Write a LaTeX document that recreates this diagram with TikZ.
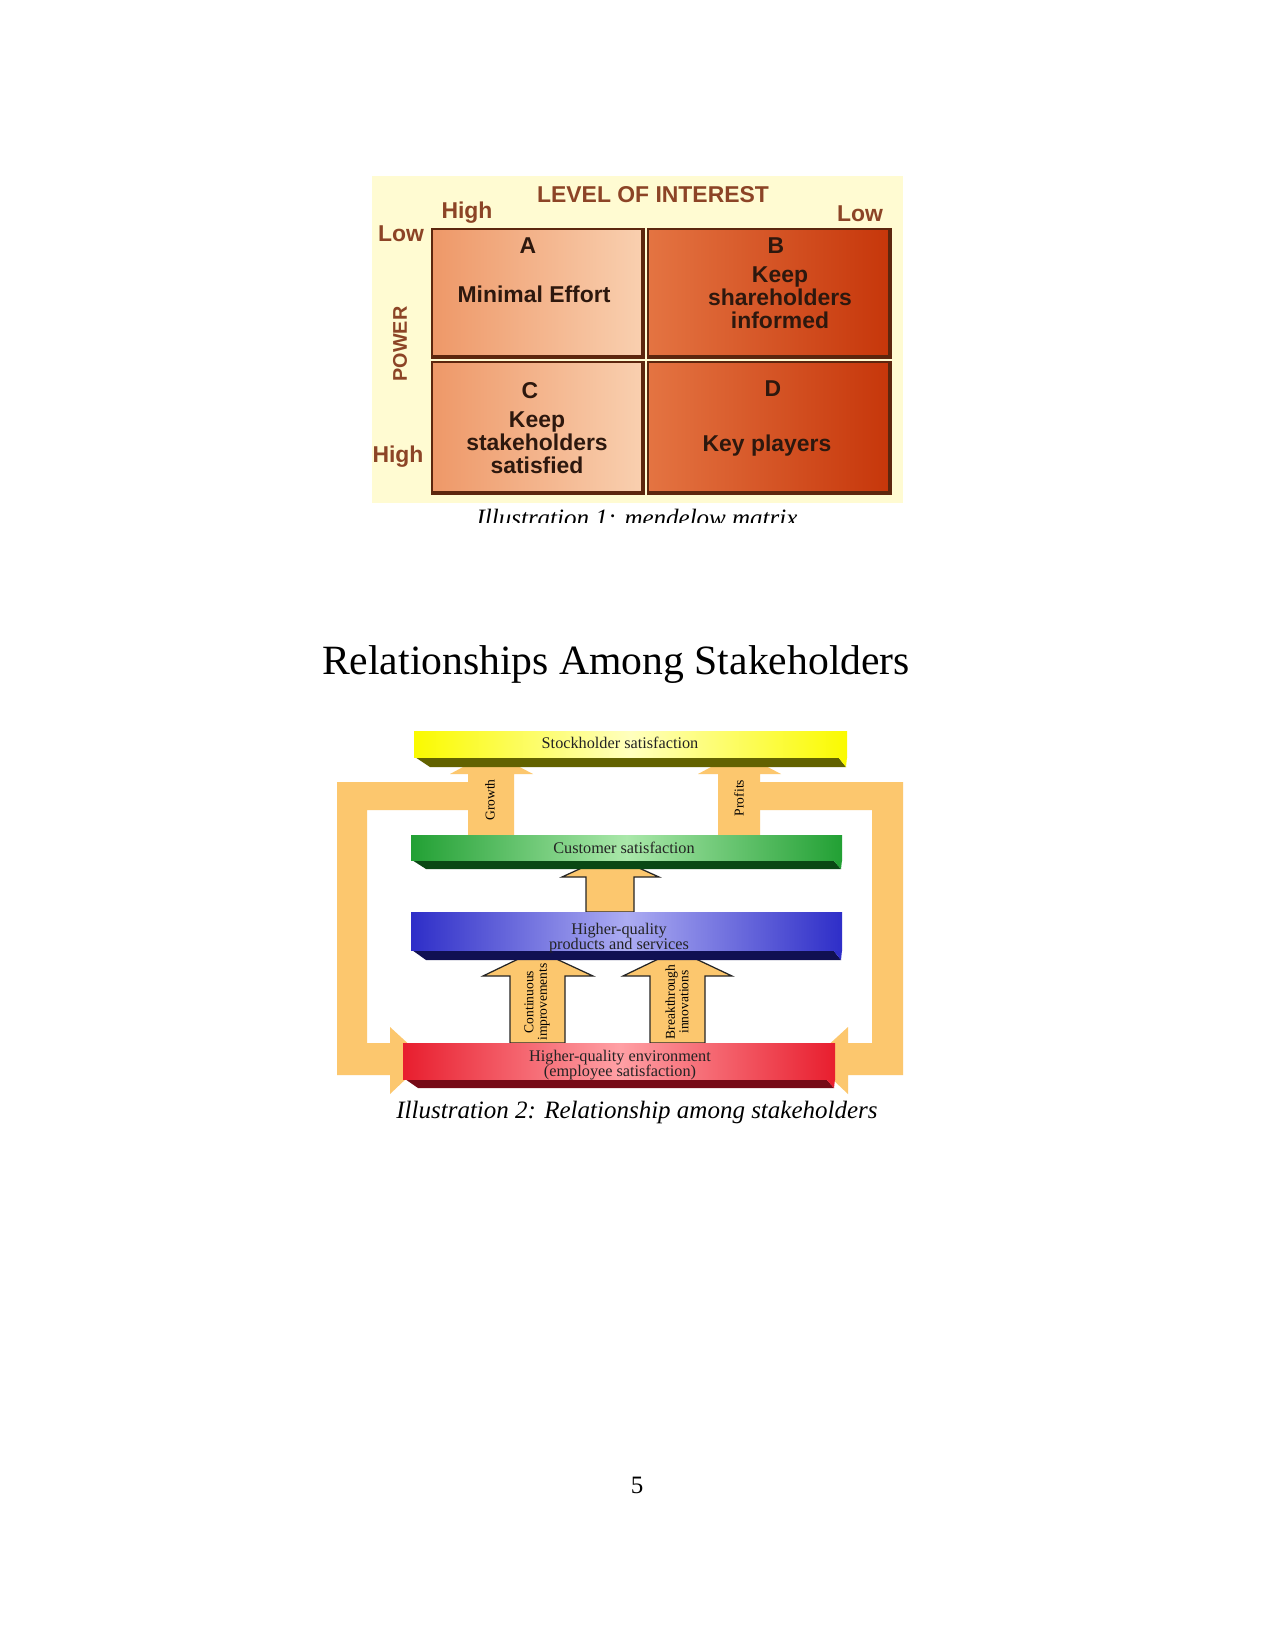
\documentclass[tikz,border=0pt]{standalone}
\usepackage{fontspec}
\setmainfont{Liberation Serif}
\newfontfamily\matrixfont{Liberation Sans}
\newcommand\tightlines{\lineskiplimit=-10pt\relax}

\definecolor{matrixbg}{RGB}{255,251,210}
\definecolor{labelbrown}{RGB}{140,68,38}
\definecolor{celltext}{RGB}{45,24,14}
\definecolor{cellbrown}{RGB}{92,38,14}
\definecolor{peachL}{RGB}{238,152,104}
\definecolor{peachR}{RGB}{249,208,176}
\definecolor{rustL}{RGB}{228,116,66}
\definecolor{rustR}{RGB}{198,54,10}
\definecolor{feedorange}{RGB}{252,199,110}
\definecolor{yface}{RGB}{250,250,0}
\definecolor{ylight}{RGB}{255,255,190}
\definecolor{yband}{RGB}{98,98,0}
\definecolor{gface}{RGB}{34,160,52}
\definecolor{glight}{RGB}{170,232,170}
\definecolor{gband}{RGB}{10,72,20}
\definecolor{bface}{RGB}{46,46,200}
\definecolor{blight}{RGB}{172,172,242}
\definecolor{bband}{RGB}{16,16,82}
\definecolor{rface}{RGB}{232,30,46}
\definecolor{rlight}{RGB}{255,160,165}
\definecolor{rband}{RGB}{118,10,22}
\definecolor{bartext}{RGB}{35,35,35}

\begin{document}
\begin{tikzpicture}[x=0.48pt,y=-0.48pt,
  mlabel/.style={font=\matrixfont\bfseries\fontsize{11}{11}\selectfont,text=labelbrown,inner sep=0pt},
  mtext/.style={font=\matrixfont\bfseries\fontsize{11}{11}\selectfont,text=celltext,align=center,inner sep=0pt},
  cellrim/.style={draw=cellbrown,line width=0.6pt},
  cellshadow/.style={draw=cellbrown,line width=1.6pt},
  barlabel/.style={font=\fontsize{7.8}{7.2}\selectfont\tightlines,text=bartext,align=center,inner sep=0pt},
  arrlabel/.style={font=\fontsize{6.5}{6.5}\selectfont\tightlines,rotate=90,align=center,inner sep=0pt},
  feed/.style={fill=feedorange},
  feedline/.style={fill=feedorange,draw=black!85,line width=0.6pt},
  caption/.style={font=\itshape\fontsize{12}{14}\selectfont,anchor=base,inner sep=0pt}]

\useasboundingbox (0,0) rectangle (1275,1651);
\fill[white] (0,0) rectangle (1275,1651);

% mendelow matrix
\fill[matrixbg] (372,176) rectangle (903,503);
\shade[left color=peachL,right color=peachR] (432,229) rectangle (644,358);
\shade[left color=rustL,right color=rustR] (648,229) rectangle (891,358);
\shade[left color=peachL,right color=peachR] (432,362) rectangle (644,494);
\shade[left color=rustL,right color=rustR] (648,362) rectangle (891,494);
\draw[cellrim] (432,229) rectangle (644,358);
\draw[cellrim] (648,229) rectangle (891,358);
\draw[cellrim] (432,362) rectangle (644,494);
\draw[cellrim] (648,362) rectangle (891,494);
\draw[cellshadow] (433,357) -- (643,357) -- (643,230);
\draw[cellshadow] (649,357) -- (890,357) -- (890,230);
\draw[cellshadow] (433,493) -- (643,493) -- (643,363);
\draw[cellshadow] (649,493) -- (890,493) -- (890,363);

\node[mlabel,anchor=base] (interest) at (653,203) {LEVEL OF INTEREST};
\node[mlabel,anchor=base] (intHigh) at (467,219) {High};
\node[mlabel,anchor=base] (intLow) at (860,222) {Low};
\node[mlabel,anchor=base] (powLow) at (401,242) {Low};
\node[mlabel,anchor=base] (powHigh) at (398,462) {High};
\node[mlabel,font=\matrixfont\bfseries\fontsize{9.5}{10}\selectfont,rotate=90] (power) at (400,344) {POWER};

\node[mtext,anchor=base] (cellA) at (528,254) {A};
\node[mtext,anchor=base] (effort) at (534,302) {Minimal Effort};
\node[mtext,anchor=base] (cellB) at (776,254) {B};
\node[mtext] (informed) at (780,298) {Keep\\shareholders\\informed};
\node[mtext,anchor=base] (cellC) at (530,398) {C};
\node[mtext] (satisfied) at (537,443) {Keep\\stakeholders\\satisfied};
\node[mtext,anchor=base] (cellD) at (773,396) {D};
\node[mtext,anchor=base] (players) at (767,451) {Key players};

\begin{scope}
\clip (300,480) rectangle (980,522);
\node[caption] (cap1) at (637,526) {Illustration 1: mendelow matrix};
\end{scope}

% relationships among stakeholders
\node[font=\fontsize{20}{23}\selectfont,anchor=base,inner sep=0pt] (title) at (616,674) {Relationships Among Stakeholders};

% feedback brackets
\fill[feed] (470,782) -- (337,782) -- (337,1075) -- (390,1075) -- (390,1094) -- (426,1060) -- (390,1027) -- (390,1043) -- (367,1043) -- (367,810) -- (470,810) -- cycle;
\fill[feed] (758,782) -- (903,782) -- (903,1075) -- (848,1075) -- (848,1094) -- (812,1060) -- (848,1027) -- (848,1043) -- (872,1043) -- (872,810) -- (758,810) -- cycle;

% upward arrows
\fill[feed] (468,835) -- (468,774) -- (450,774) -- (491,752) -- (533,774) -- (514,774) -- (514,835) -- cycle;
\fill[feed] (718,835) -- (718,774) -- (698,774) -- (739,752) -- (781,774) -- (760,774) -- (760,835) -- cycle;
\filldraw[feedline] (586,912) -- (586,877) -- (562,877) -- (610,855) -- (659,877) -- (634,877) -- (634,912) -- cycle;
\filldraw[feedline] (510,1043) -- (510,976) -- (483,976) -- (537,950) -- (593,976) -- (565,976) -- (565,1043) -- cycle;
\filldraw[feedline] (650,1043) -- (650,976) -- (623,976) -- (677,950) -- (732,976) -- (705,976) -- (705,1043) -- cycle;

% beams
\fill[yband] (415,757) -- (838,757) -- (846,767) -- (430,767) -- cycle;
\fill[yface] (838,757) -- (847,757) -- (846,767) -- cycle;
\shade[left color=yface,right color=yface,middle color=ylight] (414,731) rectangle (847,757);
\fill[gband] (412,860) -- (833,860) -- (841,869) -- (426,869) -- cycle;
\fill[gface] (833,860) -- (842,860) -- (841,869) -- cycle;
\shade[left color=gface,right color=gface,middle color=glight] (411,835) rectangle (842,860);
\fill[bband] (412,950) -- (833,950) -- (841,960) -- (426,960) -- cycle;
\fill[bface] (833,950) -- (842,950) -- (841,960) -- cycle;
\shade[left color=bface,right color=bface,middle color=blight] (411,912) rectangle (842,950);
\fill[rband] (405,1079) -- (826,1079) -- (834,1088) -- (418,1088) -- cycle;
\fill[rface] (826,1079) -- (835,1079) -- (834,1088) -- cycle;
\shade[left color=rface,right color=rface,middle color=rlight] (403,1043) rectangle (835,1079);

\node[barlabel] (stock) at (620,743) {Stockholder satisfaction};
\node[barlabel] (customer) at (624,848) {Customer satisfaction};
\node[barlabel] (products) at (619,938) {Higher-quality\\products and services};
\node[barlabel] (environment) at (620,1065) {Higher-quality environment\\(employee satisfaction)};

\node[arrlabel] (growth) at (490,800) {Growth};
\node[arrlabel] (profits) at (739,798) {Profits};
\node[arrlabel] (continuous) at (537,1002) {Continuous\\improvements};
\node[arrlabel] (breakthrough) at (677,1002) {Breakthrough\\innovations};

\node[caption] (cap2) at (637,1118) {Illustration 2: Relationship among stakeholders};
\node[font=\fontsize{12}{14}\selectfont,anchor=base,inner sep=0pt] (pagenum) at (637,1493) {5};
\end{tikzpicture}
\end{document}
